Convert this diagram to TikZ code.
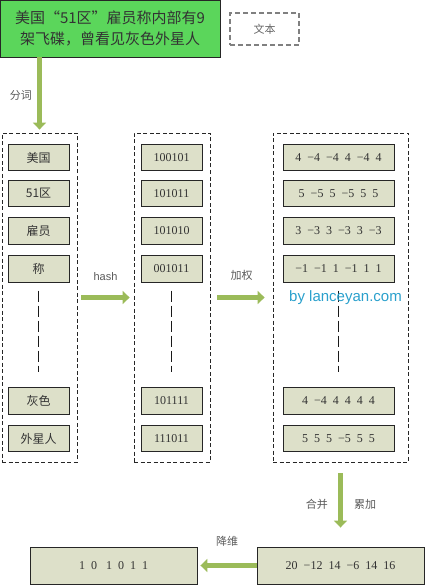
\documentclass[tikz,border=0pt]{standalone}
\usepackage{fontspec}
\setmainfont{Liberation Serif}
\newfontfamily\cjk{Noto Sans CJK SC}
\newfontfamily\lat{Liberation Sans}
\usetikzlibrary{positioning, calc, arrows.meta}

\definecolor{boxgreen}{HTML}{5BD65B}
\definecolor{flowgreen}{HTML}{9BBB59}
\definecolor{itemfill}{HTML}{DDE0C9}
\definecolor{labgray}{HTML}{595959}
\definecolor{webblue}{HTML}{2AA0CC}

\begin{document}
\begin{tikzpicture}[x=1pt, y=-1pt,
    every node/.style={text=black!80},
    % Sentence box at the top
    sentence/.style={rectangle, draw=black!85, fill=boxgreen, line width=0.8pt,
        minimum width=220pt, minimum height=57pt, inner sep=0pt,
        align=center, font=\cjk\fontsize{15}{21}\selectfont},
    % Legend box, dashed
    legend/.style={rectangle, draw=black!50, dashed, dash pattern=on 5pt off 3pt,
        line width=1.2pt, minimum width=69pt, minimum height=32pt,
        font=\cjk\fontsize{11}{13}\selectfont, text=black!60},
    % Dashed column frame
    group/.style={rectangle, draw=black!85, dash pattern=on 4pt off 2.5pt,
        line width=0.8pt, minimum height=329pt, inner sep=0pt},
    % One word / one vector
    item/.style={rectangle, draw=black!85, fill=itemfill, line width=0.9pt,
        minimum height=26.5pt, inner sep=0pt, font=\fontsize{12}{14}\selectfont},
    word/.style={item, minimum width=61pt, font=\cjk\fontsize{12}{14}\selectfont},
    hashv/.style={item, minimum width=61pt},
    wvec/.style={item, minimum width=111pt},
    % Big green arrow
    flow/.style={draw=flowgreen, line width=4.5pt,
        -{Triangle[length=7pt, width=13pt]}},
    % Gap marker inside a column
    gap/.style={draw=black!90, line width=1.8pt, dash pattern=on 11pt off 4pt},
    steplab/.style={font=\cjk\fontsize{11}{13}\selectfont, text=labgray},
]
\useasboundingbox (0,0) rectangle (425,585);

% ====================================================
% SENTENCE AND LEGEND
% ====================================================
\node[sentence] (txt) at (110,28.5) {美国“51区”雇员称内部有9\\架飞碟，曾看见灰色外星人};
\node[legend] (leg) at (264.5,29) {文本};

% ====================================================
% COLUMN 1: WORDS
% ====================================================
\node[group, minimum width=75pt] (col1) at (39.5,297.5) {};
\node[word] (w1) at (38.5,157.5) {美国};
\node[word] (w2) at (38.5,193.5) {51区};
\node[word] (w3) at (38.5,231) {雇员};
\node[word] (w4) at (38.5,269) {称};
\node[word] (w5) at (38.5,401) {灰色};
\node[word] (w6) at (38.5,438.5) {外星人};
\draw[gap, shorten <=8pt, shorten >=15pt] (w4.south) -- (w5.north);

% ====================================================
% COLUMN 2: HASH VALUES
% ====================================================
\node[group, minimum width=76pt] (col2) at (172,297.5) {};
\node[hashv] (h1) at (171.5,157.5) {100101};
\node[hashv] (h2) at (171.5,193.5) {101011};
\node[hashv] (h3) at (171.5,231) {101010};
\node[hashv] (h4) at (171.5,269) {001011};
\node[hashv] (h5) at (171.5,401) {101111};
\node[hashv] (h6) at (171.5,438.5) {111011};
\draw[gap, shorten <=8pt, shorten >=15pt] (h4.south) -- (h5.north);

% ====================================================
% COLUMN 3: WEIGHTED VECTORS
% ====================================================
\node[group, minimum width=135pt] (col3) at (340.5,297.5) {};
\node[wvec] (v1) at (338.5,157.5) {4 \ −4 \ −4 \ 4 \ −4 \ 4};
\node[wvec] (v2) at (338.5,193.5) {5 \ −5 \ 5 \ −5 \ 5 \ 5};
\node[wvec] (v3) at (338.5,231) {3 \ −3 \ 3 \ −3 \ 3 \ −3};
\node[wvec] (v4) at (338.5,269) {−1 \ −1 \ 1 \ −1 \ 1 \ 1};
\node[wvec] (v5) at (338.5,401) {4 \ −4 \ 4 \ 4 \ 4 \ 4};
\node[wvec] (v6) at (338.5,438.5) {5 \ 5 \ 5 \ −5 \ 5 \ 5};
\draw[gap, shorten <=8pt, shorten >=15pt] (v4.south) -- (v5.north);
\node[font=\lat\fontsize{15}{17}\selectfont, text=webblue] (site) at (345.5,298) {by lanceyan.com};

% ====================================================
% RESULT BOXES
% ====================================================
\node[item, minimum width=167pt, minimum height=37pt] (sum) at (340.5,565.5)
    {20 \ −12 \ 14 \ −6 \ 14 \ 16};
\node[item, minimum width=167pt, minimum height=37pt] (bits) at (113.5,565.5)
    {1 \ 0 \ \ 1 \ 0 \ 1 \ 1};

% ====================================================
% ARROWS
% ====================================================
\draw[flow, shorten >=3pt] (col1.north |- txt.south) -- node[steplab, left=2pt] {分词} (col1.north);
\draw[flow, shorten <=4pt, shorten >=4pt] (col1.east) -- node[above=11pt, font=\lat\fontsize{11}{13}\selectfont, text=labgray] {hash} (col2.west);
\draw[flow, shorten <=7pt, shorten >=8pt] (col2.east) -- node[above=11pt, steplab] {加权} (col3.west);
\draw[flow, shorten <=11pt, shorten >=19pt] (col3.south) -- node[steplab, left=7pt] {合并} node[steplab, right=8pt] {累加} (sum.north);
\draw[flow, shorten >=3pt] (sum.west) -- node[steplab, above=14pt] {降维} (bits.east);

\end{tikzpicture}
\end{document}
